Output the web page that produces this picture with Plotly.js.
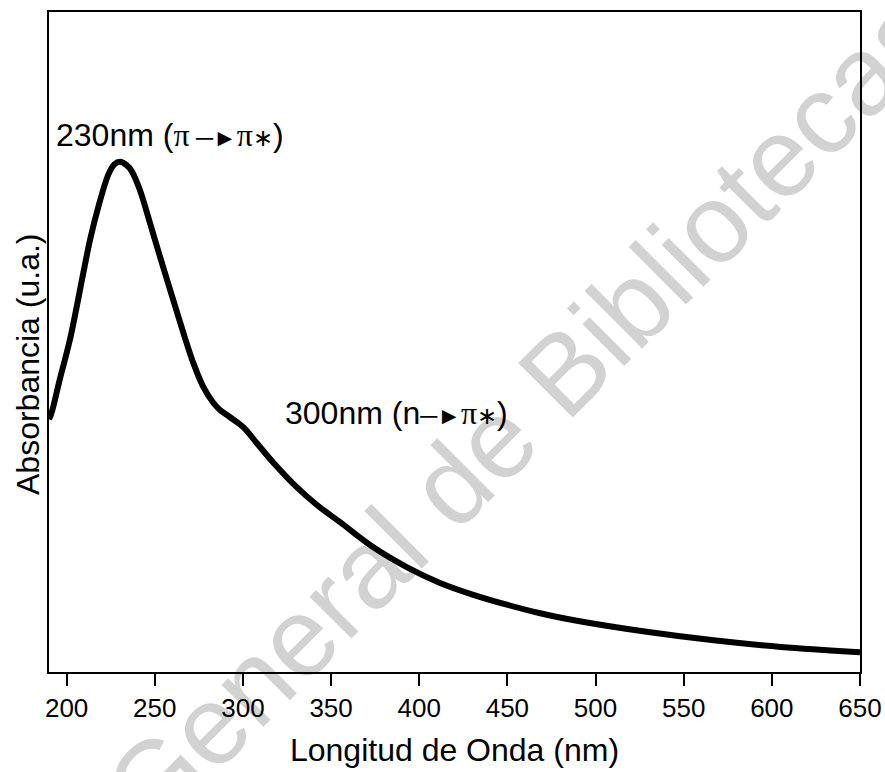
<!DOCTYPE html>
<html>
<head>
<meta charset="utf-8">
<script src="https://cdn.plot.ly/plotly-3.0.1.min.js"></script>
<style>
  html, body { margin: 0; padding: 0; background: #ffffff; }
  #chart { width: 885px; height: 772px; }
</style>
</head>
<body>
<div id="chart"></div>
<script>
// Wavelength (nm) and absorbance (arbitrary units)
const wavelength = [190, 191.5, 196, 202, 209.5, 213.3, 218, 223.7, 227, 230.3, 234, 236.9, 241.6, 247.3, 253, 258.7, 262.5, 266.2, 271.9, 277.5, 283.2, 287, 292.7, 300.2, 307.8, 317.3, 330.5, 342, 355.1, 374, 392.9, 411.8, 430.7, 449.7, 468.6, 491, 529, 567, 605, 650];
const absorbance = [0.383, 0.393, 0.442, 0.505, 0.605, 0.655, 0.705, 0.754, 0.769, 0.773, 0.768, 0.759, 0.730, 0.680, 0.629, 0.579, 0.546, 0.514, 0.468, 0.432, 0.408, 0.397, 0.386, 0.371, 0.347, 0.317, 0.280, 0.253, 0.227, 0.189, 0.159, 0.135, 0.117, 0.102, 0.089, 0.077, 0.061, 0.048, 0.038, 0.030];
const xTicks = [200, 250, 300, 350, 400, 450, 500, 550, 600, 650];

const xTitle = "Longitud de Onda (nm)";
const yTitle = "Absorbancia (u.a.)";
const arrow = "<span style='font-size:24px'>\u2500\u25BA</span>";
const pi = "<span style='font-family:Liberation Serif'>\u03C0</span>";
const star = "<span style='font-family:Liberation Serif;font-size:24px'>\u2217</span>";
const peakLabel1 = "230nm (" + pi + "\u2009" + arrow + pi + star + ")";
const peakLabel2 = "300nm (n" + arrow + pi + star + ")";
const watermark = "General de Bibliotecas";

const FONT = "Liberation Sans, Arial, sans-serif";

const trace = {
  x: wavelength,
  y: absorbance,
  type: "scatter",
  mode: "lines",
  line: { color: "#000000", width: 6, shape: "spline", smoothing: 1 },
  hoverinfo: "x+y",
  showlegend: false
};

const layout = {
  width: 885,
  height: 772,
  margin: { l: 49, r: 25, t: 12, b: 100, pad: 0 },
  paper_bgcolor: "#ffffff",
  plot_bgcolor: "rgba(0,0,0,0)",
  font: { family: FONT, color: "#000000", size: 26 },
  showlegend: false,
  xaxis: {
    range: [190, 650],
    tickmode: "array",
    tickvals: xTicks,
    ticktext: xTicks.map(String),
    ticks: "outside",
    ticklen: 12,
    tickwidth: 2,
    tickcolor: "#000000",
    showline: true,
    linecolor: "#000000",
    linewidth: 2,
    mirror: true,
    showgrid: false,
    zeroline: false,
    tickfont: { family: FONT, size: 26, color: "#000000" },
    title: { text: xTitle, font: { family: FONT, size: 32, color: "#000000" }, standoff: 16 }
  },
  yaxis: {
    range: [0, 1],
    showticklabels: false,
    ticks: "",
    showline: true,
    linecolor: "#000000",
    linewidth: 2,
    mirror: true,
    showgrid: false,
    zeroline: false
  },
  shapes: [{
    type: "line",
    xref: "paper", yref: "paper",
    x0: 0.3140, y0: 0.0841, x1: 0.8371, y1: 0.7265,
    layer: "below",
    line: { width: 0, color: "rgba(0,0,0,0)" },
    label: {
      text: watermark,
      textangle: "auto",
      textposition: "middle",
      xanchor: "center",
      yanchor: "middle",
      padding: 0,
      font: { family: FONT, size: 112, color: "#d2d2d2" }
    }
  }],
  annotations: [
    {
      text: peakLabel1, xref: "paper", yref: "paper",
      x: 0.1493, y: 0.8136, xanchor: "center", yanchor: "middle",
      showarrow: false, font: { family: FONT, size: 32, color: "#000000" }
    },
    {
      text: peakLabel2, xref: "paper", yref: "paper",
      x: 0.4288, y: 0.3924, xanchor: "center", yanchor: "middle",
      showarrow: false, font: { family: FONT, size: 32, color: "#000000" }
    },
    {
      text: yTitle, xref: "paper", yref: "paper",
      x: -0.0259, y: 0.4667, xanchor: "center", yanchor: "middle",
      textangle: -90,
      showarrow: false, font: { family: FONT, size: 32, color: "#000000" }
    }
  ]
};

Plotly.newPlot("chart", [trace], layout, { displayModeBar: false, staticPlot: true });
</script>
</body>
</html>
